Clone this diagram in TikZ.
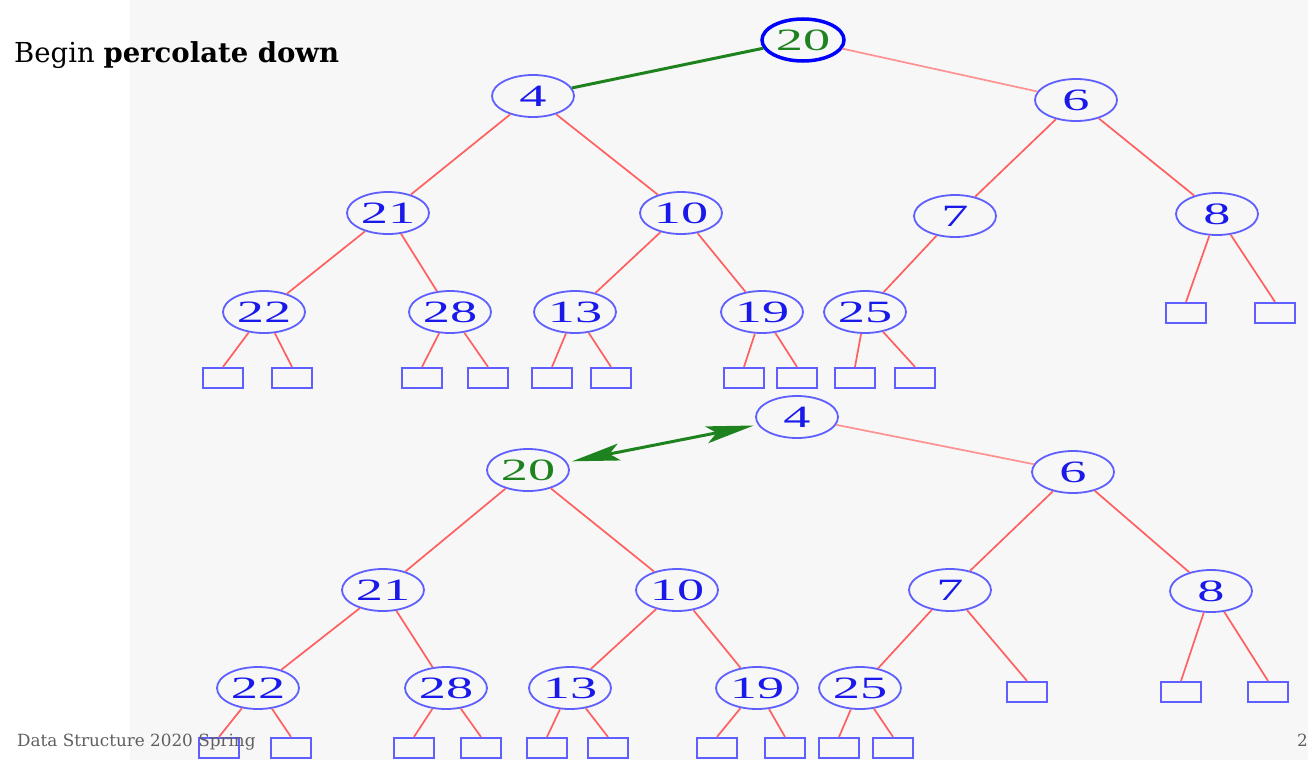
\documentclass[tikz,border=0pt]{standalone}
\usepackage{fontspec}
\setmainfont{DejaVu Serif}
\newfontfamily\numfont{Liberation Serif}
\usetikzlibrary{shapes.geometric,arrows.meta}
\definecolor{bgray}{RGB}{247,247,247}
\definecolor{nodeblue}{RGB}{95,95,255}
\definecolor{txtblue}{RGB}{25,25,235}
\definecolor{edgered}{RGB}{255,95,95}
\definecolor{edgepink}{RGB}{255,145,145}
\definecolor{grn}{RGB}{30,130,30}
\definecolor{foot}{RGB}{95,95,95}
\newcommand{\hnum}[1]{\scalebox{1.75}[1]{#1}}
\tikzset{
  key/.style={ellipse, draw=nodeblue, line width=1.8pt, minimum width=82pt, minimum height=42pt,
    inner sep=0pt, text=txtblue, font=\numfont\fontsize{31}{31}\selectfont},
  rootkey/.style={key, draw=blue, line width=3.5pt, text=grn},
  greenkey/.style={key, text=grn},
  leaf/.style={rectangle, draw=nodeblue, line width=2.2pt, minimum width=40pt, minimum height=20pt, inner sep=0pt},
  tedge/.style={draw=edgered, line width=1.7pt},
  pedge/.style={draw=edgepink, line width=1.7pt},
  gedge/.style={draw=grn, line width=3pt},
  garrow/.style={draw=grn, line width=3pt, {Stealth[length=48pt,width=17pt,inset=10pt]}-{Stealth[length=48pt,width=17pt,inset=10pt]}, shorten <=5pt, shorten >=4pt}
}
\begin{document}
\begin{tikzpicture}[x=1pt,y=-1pt]
\useasboundingbox (0,0) rectangle (1308,776);
\fill[white] (0,0) rectangle (1308,776);
\fill[bgray] (130,0) rectangle (1308,760);

% ---------- top tree ----------
\node[rootkey] (r20) at (803,40) {\hnum{20}};
\node[key] (a4) at (533,96) {\hnum{4}};
\node[key] (a6) at (1076,100) {\hnum{6}};
\node[key] (a21) at (388,213) {\hnum{21}};
\node[key] (a10) at (681,213) {\hnum{10}};
\node[key] (a7) at (955,216) {\hnum{7}};
\node[key] (a8) at (1217,214) {\hnum{8}};
\node[key] (a22) at (264,312) {\hnum{22}};
\node[key] (a28) at (450,312) {\hnum{28}};
\node[key] (a13) at (575,312) {\hnum{13}};
\node[key] (a19) at (762,312) {\hnum{19}};
\node[key] (a25) at (865,312) {\hnum{25}};
\node[leaf] (l1) at (223,378) {};
\node[leaf] (l2) at (292,378) {};
\node[leaf] (l3) at (422,378) {};
\node[leaf] (l4) at (488,378) {};
\node[leaf] (l5) at (552,378) {};
\node[leaf] (l6) at (611,378) {};
\node[leaf] (l7) at (744,378) {};
\node[leaf] (l8) at (797,378) {};
\node[leaf] (l9) at (855,378) {};
\node[leaf] (l10) at (915,378) {};
\node[leaf] (l11) at (1186,313) {};
\node[leaf] (l12) at (1275,313) {};

\draw[gedge] (r20) -- (a4);
\draw[pedge] (r20) -- (a6);
\draw[tedge] (a4) -- (a21);
\draw[tedge] (a4) -- (a10);
\draw[tedge] (a6) -- (a7);
\draw[tedge] (a6) -- (a8);
\draw[tedge] (a21) -- (a22);
\draw[tedge] (a21) -- (a28);
\draw[tedge] (a10) -- (a13);
\draw[tedge] (a10) -- (a19);
\draw[tedge] (a7) -- (a25);
\draw[tedge] (a8) -- (l11.north);
\draw[tedge] (a8) -- (l12.north);
\draw[tedge] (a22) -- (l1.north);
\draw[tedge] (a22) -- (l2.north);
\draw[tedge] (a28) -- (l3.north);
\draw[tedge] (a28) -- (l4.north);
\draw[tedge] (a13) -- (l5.north);
\draw[tedge] (a13) -- (l6.north);
\draw[tedge] (a19) -- (l7.north);
\draw[tedge] (a19) -- (l8.north);
\draw[tedge] (a25) -- (l9.north);
\draw[tedge] (a25) -- (l10.north);

% ---------- bottom tree ----------
\node[key] (b4) at (797,417) {\hnum{4}};
\node[greenkey] (b20) at (528,470) {\hnum{20}};
\node[key] (b6) at (1073,472) {\hnum{6}};
\node[key] (b21) at (383,590) {\hnum{21}};
\node[key] (b10) at (677,590) {\hnum{10}};
\node[key] (b7) at (950,590) {\hnum{7}};
\node[key] (b8) at (1211,591) {\hnum{8}};
\node[key] (b22) at (258,688) {\hnum{22}};
\node[key] (b28) at (446,688) {\hnum{28}};
\node[key] (b13) at (570,688) {\hnum{13}};
\node[key] (b19) at (757,688) {\hnum{19}};
\node[key] (b25) at (860,688) {\hnum{25}};
\node[leaf] (m1) at (219,748) {};
\node[leaf] (m2) at (291,748) {};
\node[leaf] (m3) at (414,748) {};
\node[leaf] (m4) at (481,748) {};
\node[leaf] (m5) at (547,748) {};
\node[leaf] (m6) at (608,748) {};
\node[leaf] (m7) at (717,748) {};
\node[leaf] (m8) at (785,748) {};
\node[leaf] (m9) at (839,748) {};
\node[leaf] (m10) at (893,748) {};
\node[leaf] (m11) at (1027,692) {};
\node[leaf] (m12) at (1181,692) {};
\node[leaf] (m13) at (1268,692) {};

\draw[garrow] (b20) -- (b4);
\draw[pedge] (b4) -- (b6);
\draw[tedge] (b20) -- (b21);
\draw[tedge] (b20) -- (b10);
\draw[tedge] (b6) -- (b7);
\draw[tedge] (b6) -- (b8);
\draw[tedge] (b21) -- (b22);
\draw[tedge] (b21) -- (b28);
\draw[tedge] (b10) -- (b13);
\draw[tedge] (b10) -- (b19);
\draw[tedge] (b7) -- (b25);
\draw[tedge] (b7) -- (m11.north);
\draw[tedge] (b8) -- (m12.north);
\draw[tedge] (b8) -- (m13.north);
\draw[tedge] (b22) -- (m1.north);
\draw[tedge] (b22) -- (m2.north);
\draw[tedge] (b28) -- (m3.north);
\draw[tedge] (b28) -- (m4.north);
\draw[tedge] (b13) -- (m5.north);
\draw[tedge] (b13) -- (m6.north);
\draw[tedge] (b19) -- (m7.north);
\draw[tedge] (b19) -- (m8.north);
\draw[tedge] (b25) -- (m9.north);
\draw[tedge] (b25) -- (m10.north);

% ---------- texts ----------
\node[anchor=base west, inner sep=0pt, font=\fontsize{27.5}{27.5}\selectfont] (title) at (14,63) {Begin \textbf{percolate down}};
\node[anchor=base west, inner sep=0pt, text=foot, font=\fontsize{16.8}{16.8}\selectfont] (footer) at (17,746) {Data Structure 2020 Spring};
\node[anchor=base west, inner sep=0pt, text=foot, font=\fontsize{16.8}{16.8}\selectfont] (pageno) at (1297,746) {2};
\end{tikzpicture}
\end{document}
